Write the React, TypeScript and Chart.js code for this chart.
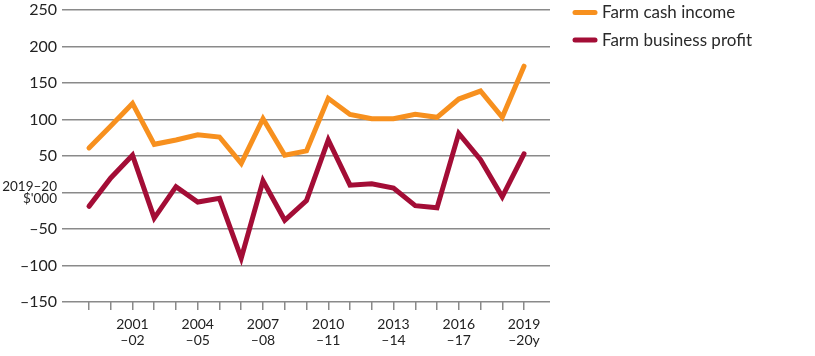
import React, { useEffect, useRef } from "react";
import { Chart, registerables } from "chart.js";

Chart.register(...registerables);

const categories = [
  "1999–00", "2000–01", "2001–02", "2002–03", "2003–04", "2004–05", "2005–06",
  "2006–07", "2007–08", "2008–09", "2009–10", "2010–11", "2011–12", "2012–13",
  "2013–14", "2014–15", "2015–16", "2016–17", "2017–18", "2018–19", "2019–20",
];

const farmCashIncome = [
  61, 91, 122, 66, 72, 79, 76, 40, 101, 51, 57, 129, 107, 101, 101, 107, 103, 128, 139, 103, 173,
];

const farmBusinessProfit = [
  -19, 20, 51, -35, 8, -13, -8, -90, 16, -38, -11, 72, 10, 12, 6, -18, -21, 81, 45, -6, 53,
];

const seriesNames = ["Farm cash income", "Farm business profit"];
const seriesColors = ["#F7901E", "#A30D36"];

const yTicks = [-150, -100, -50, 0, 50, 100, 150, 200, 250];
const yUnitLabel = ["2019–20", "$'000"];
const FONT = "Lato, 'Open Sans', sans-serif";

function xLabel(i: number): string | string[] {
  if (i % 3 !== 2) return "";
  const [yr, suf] = categories[i].split("–");
  const last = i === categories.length - 1;
  return [yr, "–" + suf + (last ? "y" : "")];
}

const legendPlugin = {
  id: "customLegend",
  afterDraw(chart: any) {
    const ctx = chart.ctx;
    ctx.save();
    seriesNames.forEach((name, i) => {
      const y = 12.5 + i * 27.5;
      ctx.strokeStyle = seriesColors[i];
      ctx.lineWidth = 5;
      ctx.lineCap = "round";
      ctx.beginPath();
      ctx.moveTo(575, y);
      ctx.lineTo(595, y);
      ctx.stroke();
      ctx.fillStyle = "#2a2a2a";
      ctx.font = `17px ${FONT}`;
      ctx.textBaseline = "middle";
      ctx.textAlign = "left";
      ctx.fillText(name, 602, y + 0.5);
    });
    ctx.restore();
  },
};

export default function App() {
  const ref = useRef<HTMLCanvasElement | null>(null);
  useEffect(() => {
    if (!ref.current) return;
    const chart = new Chart(ref.current, {
      type: "line",
      data: {
        datasets: [farmCashIncome, farmBusinessProfit].map((vals, k) => ({
          label: seriesNames[k],
          data: vals.map((v, i) => ({ x: i, y: v })),
          borderColor: seriesColors[k],
          backgroundColor: seriesColors[k],
          borderWidth: 5,
          pointRadius: 0,
          tension: 0,
          borderCapStyle: "round",
          borderJoinStyle: "miter",
        })),
      },
      options: {
        animation: false,
        responsive: false,
        layout: { padding: { top: 10, right: 265, left: 0, bottom: 0 } },
        plugins: { legend: { display: false }, tooltip: { enabled: false } },
        scales: {
          x: {
            type: "linear",
            min: -1.241,
            max: 21.195,
            afterBuildTicks: (scale: any) => {
              scale.ticks = categories.map((_, i) => ({ value: i }));
            },
            afterFit: (scale: any) => {
              scale.height = 54;
              scale.paddingLeft = 0;
              scale.paddingRight = 0;
              scale.paddingTop = 0;
              scale.paddingBottom = 0;
            },
            border: { display: false },
            grid: {
              drawOnChartArea: false,
              drawTicks: true,
              tickLength: 8,
              color: "#8a8a8a",
              lineWidth: 1.5,
            },
            ticks: {
              autoSkip: false,
              maxRotation: 0,
              minRotation: 0,
              padding: 6,
              color: "#222",
              font: { family: FONT, size: 14, lineHeight: 1.15 },
              callback: (value: any) => xLabel(Math.round(Number(value))),
            },
          },
          y: {
            min: -150,
            max: 250,
            afterBuildTicks: (scale: any) => {
              scale.ticks = yTicks.map((v) => ({ value: v }));
            },
            afterFit: (scale: any) => {
              scale.width = 62;
              scale.paddingTop = 0;
              scale.paddingBottom = 0;
              scale.paddingLeft = 0;
              scale.paddingRight = 0;
            },
            border: { display: false },
            grid: {
              drawTicks: false,
              color: "#8a8a8a",
              lineWidth: 1.5,
            },
            ticks: {
              padding: 5,
              color: "#222",
              font: (c: any) =>
                c.tick && c.tick.value === 0
                  ? { family: FONT, size: 13.5, lineHeight: 0.85 }
                  : { family: FONT, size: 16 },
              callback: (value: any) => {
                const v = Number(value);
                if (v === 0) return yUnitLabel;
                return v < 0 ? "–" + Math.abs(v) : String(v);
              },
            },
          },
        },
      },
      plugins: [legendPlugin],
    } as any);
    return () => chart.destroy();
  }, []);
  return (
    <div style={{ width: 815, height: 356 }}>
      <style>{`body{margin:0}`}</style>
      <canvas ref={ref} width={815} height={356} />
    </div>
  );
}
